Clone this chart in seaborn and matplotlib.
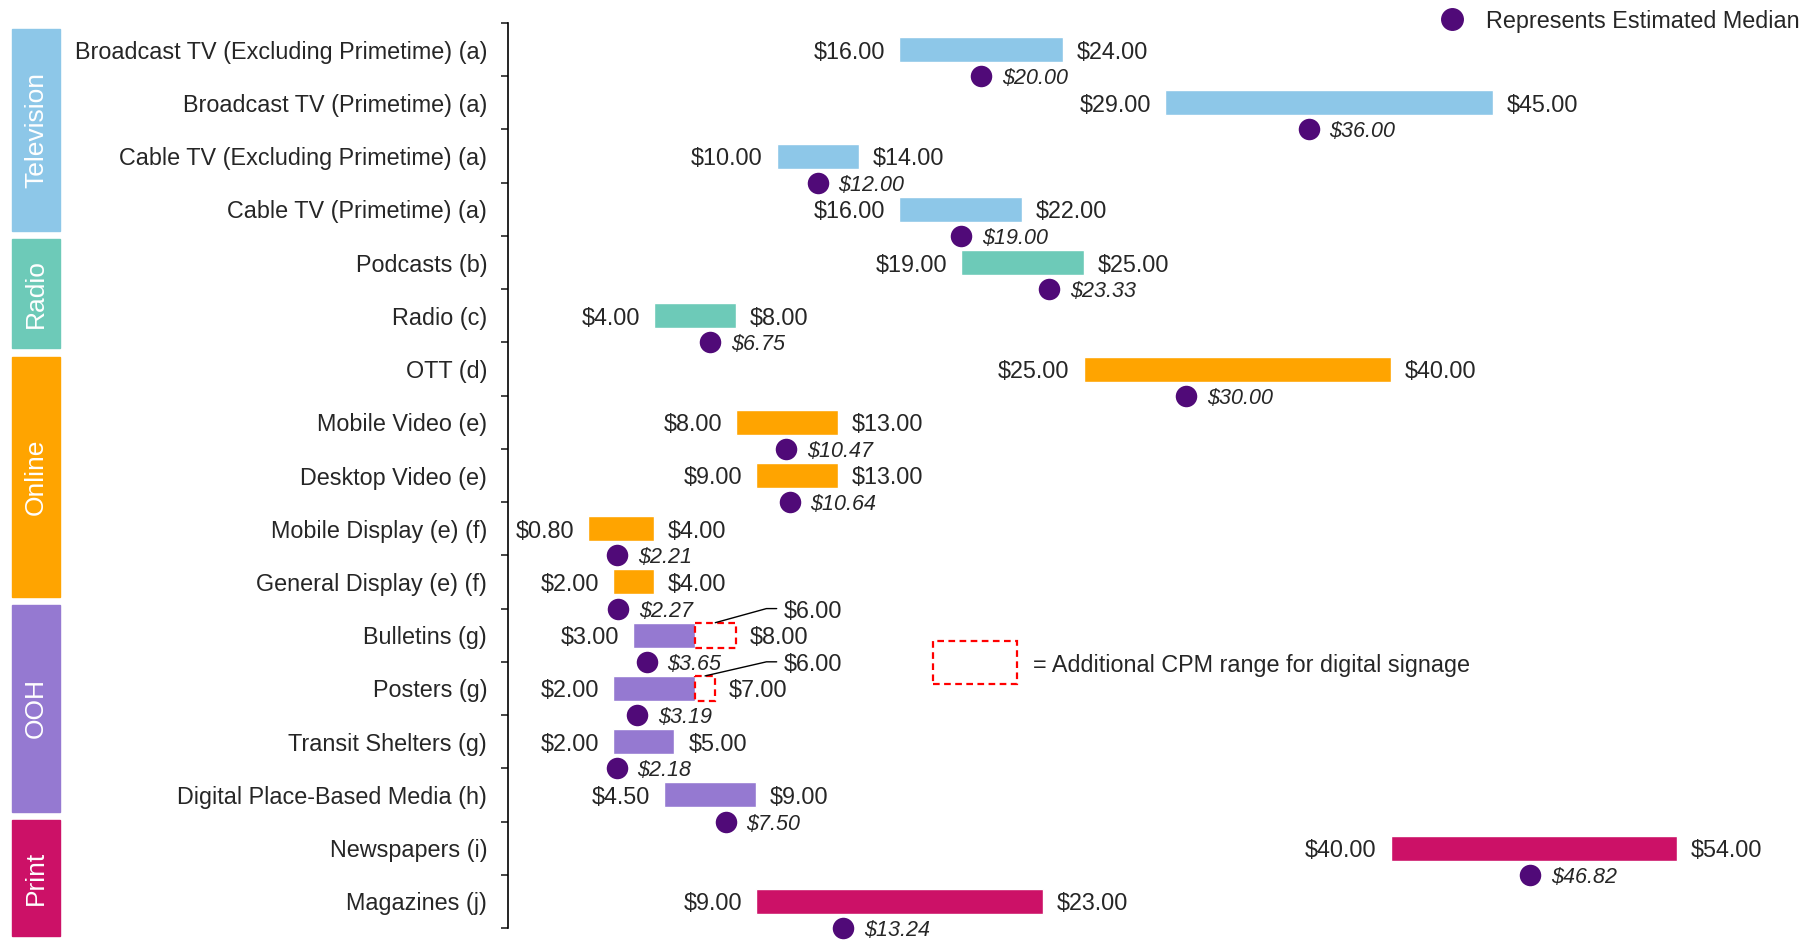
import numpy as np
import pandas as pd
import seaborn as sns
import matplotlib.pyplot as plt
from matplotlib.patches import Rectangle

sns.set_theme(style="white")
plt.rcParams['font.family'] = ['Liberation Sans', 'DejaVu Sans']

labels = ["Broadcast TV (Excluding Primetime) (a)", "Broadcast TV (Primetime) (a)",
          "Cable TV (Excluding Primetime) (a)", "Cable TV (Primetime) (a)",
          "Podcasts (b)", "Radio (c)", "OTT (d)", "Mobile Video (e)", "Desktop Video (e)",
          "Mobile Display (e) (f)", "General Display (e) (f)", "Bulletins (g)", "Posters (g)",
          "Transit Shelters (g)", "Digital Place-Based Media (h)", "Newspapers (i)", "Magazines (j)"]
group = ["Television"] * 4 + ["Radio"] * 2 + ["Online"] * 5 + ["OOH"] * 4 + ["Print"] * 2
low = [16, 29, 10, 16, 19, 4, 25, 8, 9, 0.80, 2, 3, 2, 2, 4.5, 40, 9]
high = [24, 45, 14, 22, 25, 8, 40, 13, 13, 4, 4, 6, 6, 5, 9, 54, 23]
median = [20, 36, 12, 19, 23.33, 6.75, 30, 10.47, 10.64, 2.21, 2.27, 3.65, 3.19, 2.18, 7.5, 46.82, 13.24]
digital_high = [np.nan] * 11 + [8, 7] + [np.nan] * 4

groups = ["Television", "Radio", "Online", "OOH", "Print"]
colors = {"Television": "#8DC7E8", "Radio": "#6DCAB8", "Online": "#FFA400",
          "OOH": "#9579D1", "Print": "#CC1167"}
dot_color = "#500A78"

# side box vertical spans in figure pixels (top, bottom)
box_px = {"Television": (29, 231), "Radio": (239, 348), "Online": (357, 597),
          "OOH": (605, 812), "Print": (820, 936)}

df = pd.DataFrame({"label": labels, "group": group, "low": low, "high": high,
                   "median": median, "digital_high": digital_high})
df["row"] = np.arange(len(df))

W, H = 1808, 942
fig = plt.figure(figsize=(W / 100, H / 100), dpi=100)
ax = fig.add_axes([508 / W, 1 - 928 / H, 1300 / W, 905 / H])

bh = 0.47
ax.barh(df["row"], df["high"] - df["low"], left=df["low"], height=bh,
        color=[colors[g] for g in df["group"]], zorder=2)

# dashed boxes for digital signage extension
for _, r in df.dropna(subset=["digital_high"]).iterrows():
    ax.add_patch(Rectangle((r["high"], r["row"] - bh / 2), r["digital_high"] - r["high"], bh,
                           fill=False, edgecolor="red", linestyle=(0, (3, 2)), linewidth=1.6, zorder=3))

sns.scatterplot(x=df["median"], y=df["row"] + 0.5, ax=ax, s=240, color=dot_color,
                edgecolor=dot_color, linewidth=0, zorder=4, legend=False, clip_on=False)

fs = 16.8
for _, r in df.iterrows():
    ax.annotate(f"${r['low']:.2f}", (r["low"], r["row"]), xytext=(-10, 0), textcoords="offset points",
                ha="right", va="center_baseline", fontsize=fs)
    top = r["high"] if np.isnan(r["digital_high"]) else r["digital_high"]
    ax.annotate(f"${top:.2f}", (top, r["row"]), xytext=(10, 0), textcoords="offset points",
                ha="left", va="center_baseline", fontsize=fs)
    ax.annotate(f"${r['median']:.2f}", (r["median"], r["row"] + 0.5), xytext=(15, 0),
                textcoords="offset points", ha="left", va="center_baseline", fontsize=15.5,
                style="italic")
    if not np.isnan(r["digital_high"]):
        mid = (r["high"] + r["digital_high"]) / 2
        y0 = r["row"] - bh / 2
        y1 = r["row"] - 0.5
        ax.plot([mid, 9.5, 10.0], [y0, y1, y1], color="black", linewidth=1, zorder=3)
        ax.text(10.35, y1, f"${r['high']:.2f}", ha="left", va="center_baseline", fontsize=fs)

ax.set_xlim(-3.13, 60.4)
ax.set_ylim(len(df) - 0.5, -0.5)
ax.set_yticks(df["row"])
ax.set_yticklabels(df["label"], fontsize=fs)
ax.set_yticks(np.arange(-0.5, len(df)), minor=True)
ax.tick_params(axis="y", which="major", length=0, pad=15)
ax.tick_params(axis="y", which="minor", length=5, width=1.2, direction="out", left=True)
ax.set_xticks([])
for s in ["top", "right", "bottom"]:
    ax.spines[s].set_visible(False)
ax.spines["left"].set_color("black")
ax.spines["left"].set_linewidth(1.2)
ax.set_xlabel("")
ax.set_ylabel("")

# category side boxes
for g in groups:
    t, b = box_px[g]
    fig.patches.append(Rectangle((12 / W, 1 - b / H), 48 / W, (b - t) / H, transform=fig.transFigure,
                                 color=colors[g], figure=fig))
    fig.text(36 / W, 1 - (t + b) / 2 / H, g, rotation=90, ha="center", va="center",
             color="white", fontsize=19)

# legends
ax.scatter([0.726], [1.004], s=240, color=dot_color, transform=ax.transAxes, clip_on=False)
ax.text(0.752, 1.004, "Represents Estimated Median", transform=ax.transAxes, ha="left",
        va="center_baseline", fontsize=fs)
ax.add_patch(Rectangle((0.327, 0.2696), 0.0646, 0.0475, transform=ax.transAxes, fill=False,
                       edgecolor="red", linestyle=(0, (3, 2)), linewidth=1.6))
ax.text(0.404, 0.293, "= Additional CPM range for digital signage", transform=ax.transAxes,
        ha="left", va="center_baseline", fontsize=fs)

fig.savefig("out.png", dpi=100)
